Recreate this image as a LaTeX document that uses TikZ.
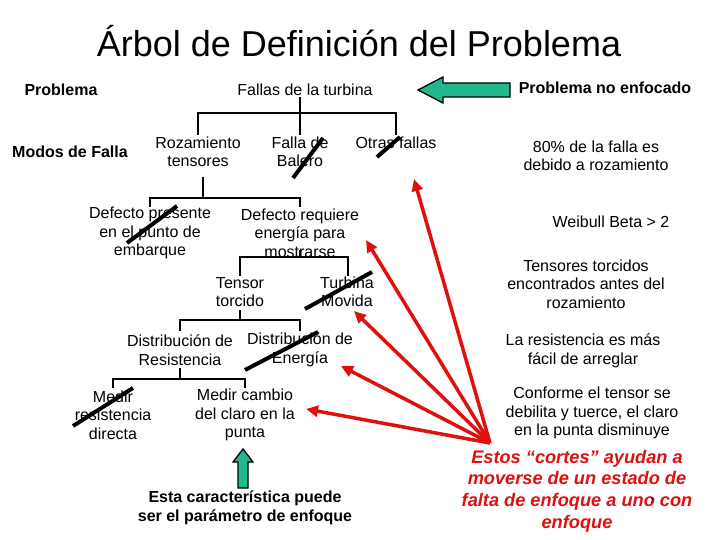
\documentclass[tikz,border=0pt]{standalone}
\usepackage{fontspec}
\setmainfont{Liberation Sans}
\usetikzlibrary{arrows.meta}
\definecolor{arrgreen}{RGB}{32,184,140}
\definecolor{cutred}{RGB}{222,16,16}
\begin{document}
\begin{tikzpicture}[x=1pt,y=-1pt,
  txt/.style={inner sep=0pt,align=center,font=\fontsize{16}{18.5}\selectfont},
  lbl/.style={inner sep=0pt,align=center,font=\fontsize{16}{19}\selectfont\bfseries},
  tree/.style={line width=2pt,black},
  cut/.style={line width=4pt,black},
  redarr/.style={line width=3.5pt,cutred,-{Triangle[length=12pt,width=11pt]}},
  garrow/.style={fill=arrgreen,draw=black,line width=1.3pt,line join=miter}]
\useasboundingbox (0,0) rectangle (720,540);
\fill[white] (0,0) rectangle (720,540);
% title
\node[inner sep=0pt,font=\fontsize{36}{40}\selectfont] (title) at (359,41) {Árbol de Definición del Problema};
% left labels
\node[lbl] (lprob) at (61,90) {Problema};
\node[lbl] (lmodos) at (70,152) {Modos de Falla};
\node[lbl] (lnoenf) at (605,88) {Problema no enfocado};
% tree nodes
\node[txt] (fallas) at (305,90) {Fallas de la turbina};
\node[txt] (roz) at (198,152) {Rozamiento\\tensores};
\node[txt] (balero) at (300,152) {Falla de\\Balero};
\node[txt] (otras) at (396,143) {Otras fallas};
\node[txt] (defp) at (150,233) {Defecto presente\\en el punto de\\embarque};
\node[txt] (defr) at (300,233) {Defecto requiere\\energía para\\mostrarse};
\node[txt] (tens) at (240,292) {Tensor\\torcido};
\node[txt] (turb) at (347,292) {Turbina\\Movida};
\node[txt] (dres) at (180,350) {Distribución de\\Resistencia};
\node[txt] (dene) at (300,350) {Distribución de\\Energía};
\node[txt] (mres) at (113,415) {Medir\\resistencia\\directa};
\node[txt] (mcam) at (245,415) {Medir cambio\\del claro en la\\punta};
\node[lbl] (esta) at (245,508) {Esta característica puede\\ser el parámetro de enfoque};
% right column
\node[txt] (ochenta) at (596,156) {80\% de la falla es\\debido a rozamiento};
\node[txt] (weib) at (611,222) {Weibull Beta > 2};
\node[txt] (tors) at (586,284) {Tensores torcidos\\encontrados antes del\\rozamiento};
\node[txt] (facil) at (583,351) {La resistencia es más\\fácil de arreglar};
\node[txt] (conf) at (592,413) {Conforme el tensor se\\debilita y tuerce, el claro\\en la punta disminuye};
\node[inner sep=0pt,align=center,text=cutred,font=\fontsize{18.2}{21.6}\selectfont\bfseries\itshape] (estos) at (577,491)
  {Estos “cortes” ayudan a\\moverse de un estado de\\falta de enfoque a uno con\\enfoque};
\node[inner sep=0pt,font=\fontsize{7}{8}\selectfont\itshape] (pnum) at (652,501) {7};
% tree connectors (level 1)
\coordinate (f0) at (300,97);
\coordinate (f1) at (300,113);
\coordinate (a1) at (198,113);
\coordinate (a3) at (396,113);
\coordinate (r1) at (198,135);
\coordinate (b1) at (300,135);
\coordinate (o1) at (396,135);
\draw[tree] (f0) -- (f1);
\draw[tree] (r1) -- (a1) -- (a3) -- (o1);
\draw[tree] (f1) -- (b1);
% level 2
\coordinate (r2) at (203,177);
\coordinate (r3) at (203,198);
\coordinate (p1) at (150,198);
\coordinate (p2) at (150,207);
\coordinate (q1) at (300,198);
\coordinate (q2) at (300,207);
\draw[tree] (r2) -- (r3);
\draw[tree] (p2) -- (p1) -- (q1) -- (q2);
% level 3
\coordinate (s0) at (300,250);
\coordinate (s1) at (300,257);
\coordinate (t1) at (240,257);
\coordinate (t2) at (240,276);
\coordinate (u1) at (348,257);
\coordinate (u2) at (348,276);
\draw[tree] (s0) -- (s1);
\draw[tree] (t2) -- (t1) -- (u1) -- (u2);
% level 4
\coordinate (v0) at (240,310);
\coordinate (v1) at (240,320);
\coordinate (w1) at (180,320);
\coordinate (w2) at (180,331);
\coordinate (x1) at (300,320);
\coordinate (x2) at (300,331);
\draw[tree] (v0) -- (v1);
\draw[tree] (w2) -- (w1) -- (x1) -- (x2);
% level 5
\coordinate (y0) at (180,368);
\coordinate (y1) at (180,379);
\coordinate (m1) at (113,379);
\coordinate (m2) at (113,388);
\coordinate (n1) at (245,379);
\coordinate (n2) at (245,388);
\draw[tree] (y0) -- (y1);
\draw[tree] (m2) -- (m1) -- (n1) -- (n2);
% strike-throughs
\draw[cut] (293,178) -- (323,138);
\draw[cut] (377,157) -- (400,137);
\draw[cut] (127,243) -- (177,206);
\draw[cut] (305,309) -- (372,272);
\draw[cut] (245,370) -- (318,332);
\draw[cut] (73,426) -- (133,388);
% green arrows
\draw[garrow] (418,90) -- (443,77) -- (443,83) -- (510,83) -- (510,97) -- (443,97) -- (443,103) -- cycle;
\draw[garrow] (243,449) -- (253,462) -- (248,462) -- (248,488) -- (238,488) -- (238,462) -- (233,462) -- cycle;
% red arrows
\coordinate (src) at (490,443);
\coordinate (k1) at (414,179);
\coordinate (k2) at (366,240);
\coordinate (k3) at (354,311);
\coordinate (k4) at (341,366);
\coordinate (k5) at (306,409);
\draw[redarr] (src) -- (k1);
\draw[redarr] (src) -- (k2);
\draw[redarr] (src) -- (k3);
\draw[redarr] (src) -- (k4);
\draw[redarr] (src) -- (k5);
\end{tikzpicture}
\end{document}
